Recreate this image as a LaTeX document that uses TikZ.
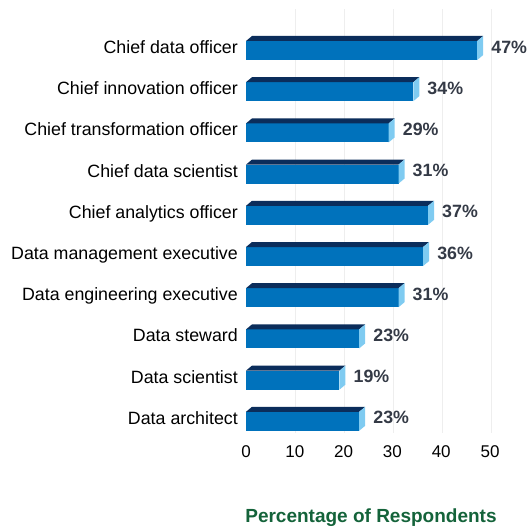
\documentclass[tikz,border=0pt]{standalone}
\usepackage{fontspec}
\setmainfont{Liberation Sans}
\definecolor{barfront}{HTML}{0072BC}
\definecolor{bartop}{HTML}{0B2D5B}
\definecolor{barside}{HTML}{7FCBF1}
\definecolor{pcttext}{HTML}{343A46}
\definecolor{titlegreen}{HTML}{14633A}
\definecolor{gridgray}{HTML}{EEEEEE}
\begin{document}
\begin{tikzpicture}[x=1pt,y=-1pt,
  gridline/.style={draw=gridgray,line width=0.8pt},
  catlabel/.style={anchor=base east,inner sep=0pt,font=\fontsize{17.8}{20}\selectfont,text=black},
  pctlabel/.style={anchor=base west,inner sep=0pt,font=\fontsize{17.8}{20}\selectfont\bfseries,text=pcttext},
  ticklabel/.style={anchor=base,inner sep=0pt,font=\fontsize{17}{20}\selectfont,text=black},
  axistitle/.style={anchor=base,inner sep=0pt,font=\fontsize{19}{22}\selectfont\bfseries,text=titlegreen}]
\useasboundingbox (0,0) rectangle (532,527);
\foreach \k in {1,...,5} \draw[gridline] (246+49*\k,9) -- (246+49*\k,433);
\foreach \lab/\v [count=\i from 0] in {Chief data officer/47,Chief innovation officer/34,Chief transformation officer/29,Chief data scientist/31,Chief analytics officer/37,Data management executive/36,Data engineering executive/31,Data steward/23,Data scientist/19,Data architect/23}{
  \pgfmathsetmacro\yt{41+41.2*\i}
  \pgfmathsetmacro\xe{246+4.92*\v}
  \fill[barfront] (246,\yt) rectangle (\xe,\yt+19);
  \fill[bartop] (246,\yt) -- (\xe,\yt) -- (\xe+6,\yt-5) -- (252,\yt-5) -- cycle;
  \fill[barside] (\xe,\yt) -- (\xe+6,\yt-5) -- (\xe+6,\yt+14) -- (\xe,\yt+19) -- cycle;
  \node[catlabel] (lab\i) at (238,\yt+12.5) {\lab};
  \node[pctlabel] (pct\i) at (\xe+14,\yt+12) {\v\%};
}
\foreach \t in {0,10,...,50} \node[ticklabel] (tick\t) at (246+4.88*\t,457) {\t};
\node[axistitle] (title) at (371,522) {Percentage of Respondents};
\end{tikzpicture}
\end{document}
